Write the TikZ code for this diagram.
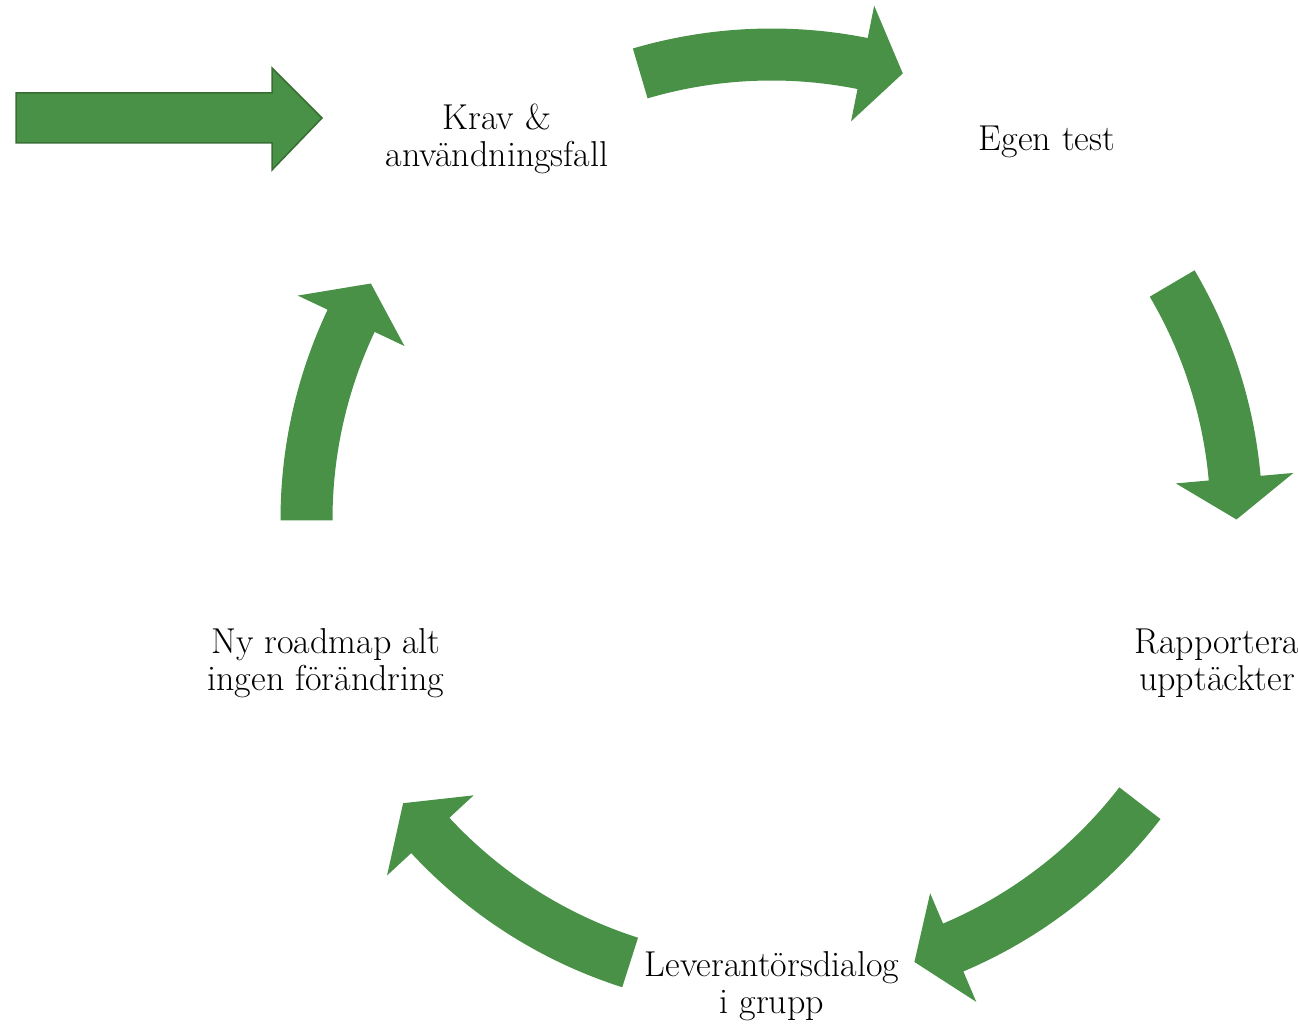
\documentclass[tikz,border=0pt]{standalone}
\usepackage{fontspec}
\usetikzlibrary{calc}
\definecolor{arrowgreen}{RGB}{72,145,70}
\definecolor{arrowedge}{RGB}{56,110,50}
\tikzset{
  lbl/.style={align=center, font=\fontsize{36}{37}\selectfont, inner sep=0pt, text=black},
  ringfill/.style={fill=arrowgreen, draw=none},
  blockarrow/.style={draw=arrowedge, fill=arrowgreen, line width=1.5pt, line join=miter},
}
% #1 tail angle, #2 head base angle, #3 tip angle
\newcommand{\ringarrow}[3]{%
  \path[ringfill] ($(c)+(#1:491pt)$) arc[start angle=#1, end angle=#2, radius=491pt]
    -- ($(c)+(#2:524pt)$) -- ($(c)+(#3:465pt)$) -- ($(c)+(#2:406pt)$)
    -- ($(c)+(#2:439pt)$) arc[start angle=#2, end angle=#1, radius=439pt] -- cycle;}
\begin{document}
\begin{tikzpicture}[x=1pt,y=1pt]
\useasboundingbox (0,0) rectangle (1298,1026);
\coordinate (c) at (771.5,506.5);

\ringarrow{106.4}{78.7}{73.6}
\ringarrow{30.5}{5.1}{0}
\ringarrow{-37.6}{-67}{-72.1}
\ringarrow{-107.7}{-137.2}{-142.4}
\ringarrow{180.1}{154.7}{149.5}

\path[blockarrow] (16,883) -- (16,933) -- (272,933) -- (272,958) -- (322,908)
  -- (272,856) -- (272,883) -- cycle;

\node[lbl] (krav) at (497,887) {Krav \&\\användningsfall};
\node[lbl] (egen) at (1047,884) {Egen test};
\node[lbl] (rapp) at (1217,363) {Rapportera\\upptäckter};
\node[lbl] (lev)  at (772,40)  {Leverantörsdialog\\i grupp};
\node[lbl] (ny)   at (326,363) {Ny roadmap alt\\ingen förändring};
\end{tikzpicture}
\end{document}
